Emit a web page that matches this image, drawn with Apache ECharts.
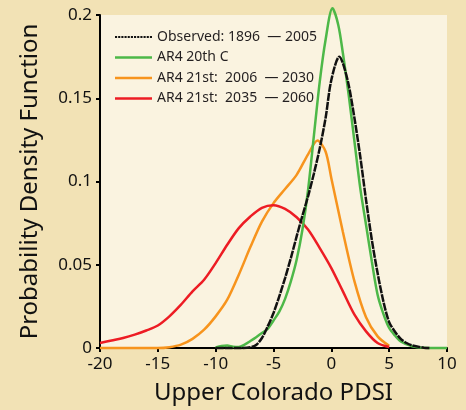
<!DOCTYPE html>
<html><head><meta charset="utf-8">
<script src="https://cdn.jsdelivr.net/npm/echarts@6/dist/echarts.min.js"></script>
<style>html,body{margin:0;padding:0;background:#F2E2B5;}#c{width:466px;height:410px;}</style>
</head><body><div id="c"></div>
<script>
var seriesNames = ['Observed: 1896  \u2014 2005', 'AR4 20th C', 'AR4 21st:  2006  \u2014 2030', 'AR4 21st:  2035  \u2014 2060'];
var xTicks = [-20, -15, -10, -5, 0, 5, 10];
var observedX = [-10, -9, -8, -7, -6.5, -6, -5.5, -5, -4.5, -4, -3.5, -3, -2.5, -2, -1.5, -1, -0.5, 0, 0.7, 1, 1.5, 2, 2.5, 3, 3.5, 4, 4.5, 5, 5.5, 6, 6.5, 7, 8, 8.5];
var observedY = [0, 0, 0, 0.0004, 0.0018, 0.006, 0.013, 0.021, 0.031, 0.042, 0.054, 0.067, 0.0795, 0.0914, 0.105, 0.120, 0.138, 0.161, 0.175, 0.171, 0.158, 0.138, 0.115, 0.089, 0.065, 0.045, 0.028, 0.0155, 0.0098, 0.0055, 0.003, 0.0015, 0.0002, 0];
var ar4X = [-10, -9.5, -9, -8.5, -8, -7.5, -7, -6.5, -6, -5.5, -5, -4.5, -4, -3.5, -3, -2.5, -2, -1.5, -1, -0.5, 0.1, 0.6, 1, 1.5, 2, 2.5, 3, 3.5, 4, 4.5, 5, 5.5, 6, 7, 8, 9, 10];
var ar4Y = [0.0003, 0.0012, 0.0015, 0.0008, 0.0006, 0.002, 0.0042, 0.0065, 0.009, 0.0115, 0.0165, 0.0218, 0.0295, 0.040, 0.053, 0.071, 0.0956, 0.128, 0.160, 0.185, 0.204, 0.194, 0.177, 0.152, 0.124, 0.096, 0.074, 0.052, 0.032, 0.0205, 0.012, 0.0075, 0.004, 0.001, 0.0001, 0, 0];
var near21X = [-20, -19, -18, -17, -16, -15, -14, -13, -12, -11, -10, -9, -8, -7, -6, -5, -4, -3, -2, -1.2, -0.5, 0, 1, 2, 3, 4, 5];
var near21Y = [0, 0, 0, 0, 0, 0, 0.0005, 0.002, 0.0055, 0.011, 0.019, 0.029, 0.044, 0.0606, 0.0759, 0.087, 0.0955, 0.104, 0.1165, 0.1246, 0.118, 0.102, 0.0697, 0.040, 0.0185, 0.007, 0.0013];
var mid21X = [-20, -19, -18, -17, -16, -15, -14, -13, -12, -11, -10, -9, -8, -7, -6, -5, -4, -3, -2, -1, 0, 1, 2, 3, 4, 5];
var mid21Y = [0.003, 0.0045, 0.006, 0.008, 0.0105, 0.0135, 0.019, 0.026, 0.034, 0.041, 0.051, 0.062, 0.072, 0.079, 0.0842, 0.0857, 0.0835, 0.0785, 0.071, 0.060, 0.048, 0.034, 0.020, 0.010, 0.003, 0.0006];
var colors = ['#111111', '#4DB848', '#F7941D', '#ED1C24'];

function pairs(xs, ys) { return xs.map(function (x, i) { return [x, ys[i]]; }); }
var dataSets = [pairs(observedX, observedY), pairs(ar4X, ar4Y), pairs(near21X, near21Y), pairs(mid21X, mid21Y)];
var order = [2, 3, 1, 0];
var series = order.map(function (i) {
  return {
    name: seriesNames[i], type: 'line', data: dataSets[i], smooth: 0.3, symbol: 'none', clip: false,
    lineStyle: { color: colors[i], width: 2.5, type: i === 0 ? [8, 1] : 'solid' }, itemStyle: { color: colors[i] }, z: i === 0 ? 5 : 3
  };
});
var dashPath = 'path://';
for (var k = 0; k < 12; k++) { dashPath += 'M' + (k * 3) + ',0h2v2h-2z'; }
var font = 'Noto Sans';
var chart = echarts.init(document.getElementById('c'));
chart.setOption({
  backgroundColor: '#F2E2B5',
  animation: false,
  textStyle: { fontFamily: font },
  grid: { left: 100, right: 19, top: 15, bottom: 59, show: true, backgroundColor: '#FAF3E0', borderWidth: 0 },
  legend: {
    left: 110, top: 24, orient: 'vertical', itemWidth: 37, itemHeight: 2.5, itemGap: 4.5,
    textStyle: { fontFamily: font, fontSize: 14, color: '#231F20', lineHeight: 16 },
    data: seriesNames.map(function (n, i) {
      return { name: n, icon: i === 0 ? dashPath : 'rect', itemStyle: { color: colors[i] } };
    })
  },
  xAxis: {
    type: 'value', min: -20, max: 10, interval: 5,
    name: 'Upper Colorado PDSI', nameLocation: 'middle', nameGap: 33,
    nameTextStyle: { fontSize: 24, color: '#111', fontFamily: font },
    axisLine: { onZero: false, lineStyle: { color: '#000', width: 2 } },
    axisTick: { show: true, length: 4, lineStyle: { color: '#000', width: 2 } },
    axisLabel: { fontSize: 17, color: '#111', margin: 8, formatter: function (v) { return xTicks.indexOf(v) >= 0 ? String(v) : ''; } },
    splitLine: { show: false }
  },
  yAxis: {
    type: 'value', min: 0, max: 0.2, interval: 0.05,
    name: 'Probability Density Function', nameLocation: 'middle', nameGap: 58,
    nameTextStyle: { fontSize: 24, color: '#111', fontFamily: font },
    axisLine: { show: true, onZero: false, lineStyle: { color: '#000', width: 2 } },
    axisTick: { show: true, length: 4, lineStyle: { color: '#000', width: 2 } },
    axisLabel: { fontSize: 17, color: '#111', margin: 8 },
    splitLine: { show: false }
  },
  series: series
});
</script></body></html>
